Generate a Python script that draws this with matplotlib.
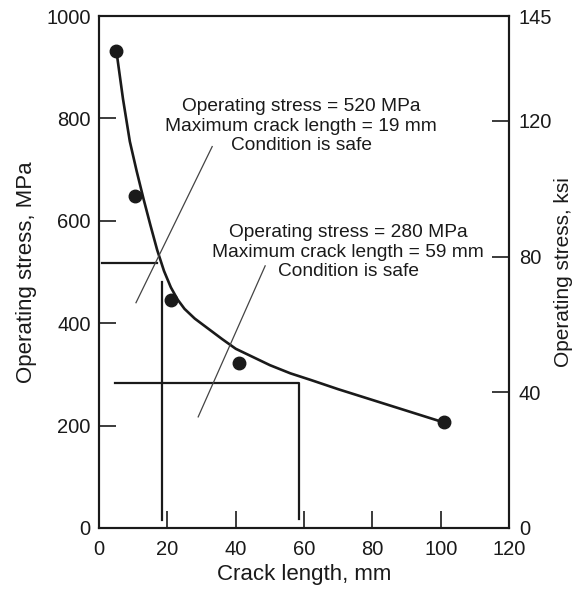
import matplotlib
matplotlib.use('Agg')
import matplotlib.pyplot as plt

plt.rcParams['font.family'] = ['Liberation Sans', 'DejaVu Sans']

# measured points (crack length mm, stress MPa)
crack_mm = [5, 10.5, 21, 41, 101]
stress_mpa = [932, 648, 445, 323, 207]

# fitted curve
curve_x = [5, 7, 9, 11, 13, 15, 17, 19, 21, 23, 25, 28, 32, 36, 40, 45,
           50, 56, 62, 70, 80, 90, 100]
curve_y = [935, 838, 755, 697, 643, 592, 543, 502, 470, 446, 428, 409,
           389, 369, 350, 334, 318, 302, 289, 271, 250, 229, 208]

# safe-condition guide lines
case1_h_x = [1, 17]
case1_h_y = [518, 518]
case1_v_x = [18.5, 18.5]
case1_v_y = [15, 480]
case2_x = [4.7, 58.5, 58.5]
case2_y = [283, 283, 18]

# leader lines from the notes
lead1_x = [33.1, 10.8]
lead1_y = [745, 440]
lead2_x = [48.6, 29.0]
lead2_y = [512, 217]

note1 = 'Operating stress = 520 MPa\nMaximum crack length = 19 mm\nCondition is safe'
note2 = 'Operating stress = 280 MPa\nMaximum crack length = 59 mm\nCondition is safe'

x_ticks = [0, 20, 40, 60, 80, 100, 120]
mpa_ticks = [0, 200, 400, 600, 800, 1000]
ksi_labels = ['0', '40', '80', '120', '145']
ksi_pos = [0, 265, 530, 795, 1000]  # where the ksi ticks sit on the MPa scale

ink = '#1a1a1a'

fig = plt.figure(figsize=(5.76, 5.89), dpi=100)
ax = fig.add_axes([0.172, 0.1036, 0.712, 0.8692])

ax.plot(curve_x, curve_y, color=ink, lw=1.9, solid_joinstyle='round')
ax.plot(crack_mm, stress_mpa, 'o', color=ink, ms=9)

ax.plot(case1_h_x, case1_h_y, color=ink, lw=1.6)
ax.plot(case1_v_x, case1_v_y, color=ink, lw=1.6)
ax.plot(case2_x, case2_y, color=ink, lw=1.6)

ax.plot(lead1_x, lead1_y, color='#444444', lw=0.9)
ax.plot(lead2_x, lead2_y, color='#444444', lw=0.9)

ax.text(59.1, 785, note1, ha='center', va='center', fontsize=13.8,
        color=ink, linespacing=1.17)
ax.text(72.9, 539, note2, ha='center', va='center', fontsize=13.8,
        color=ink, linespacing=1.17)

ax.set_xlim(0, 120)
ax.set_ylim(0, 1000)
ax.set_xticks(x_ticks)
ax.set_yticks(mpa_ticks)
ax.tick_params(direction='in', length=12, width=1.2, labelsize=14.5,
               colors=ink)
ax.tick_params(axis='x', pad=9)
ax.tick_params(axis='y', pad=6)
for s in ax.spines.values():
    s.set_linewidth(1.5)
    s.set_color(ink)

ax.set_xlabel('Crack length, mm', fontsize=16, color=ink, labelpad=3)
ax.set_ylabel('Operating stress, MPa', fontsize=16, color=ink, labelpad=7)

# right hand scale in ksi
ax2 = ax.twinx()
ax2.set_ylim(0, 1000)
ax2.set_yticks(ksi_pos)
ax2.set_yticklabels(ksi_labels)
ax2.tick_params(direction='in', length=12, width=1.2, labelsize=14.5,
                colors=ink, pad=7)
for s in ax2.spines.values():
    s.set_linewidth(1.5)
    s.set_color(ink)
ax2.set_ylabel('Operating stress, ksi', fontsize=15, color=ink, labelpad=1)

fig.savefig('out.png', dpi=100)
